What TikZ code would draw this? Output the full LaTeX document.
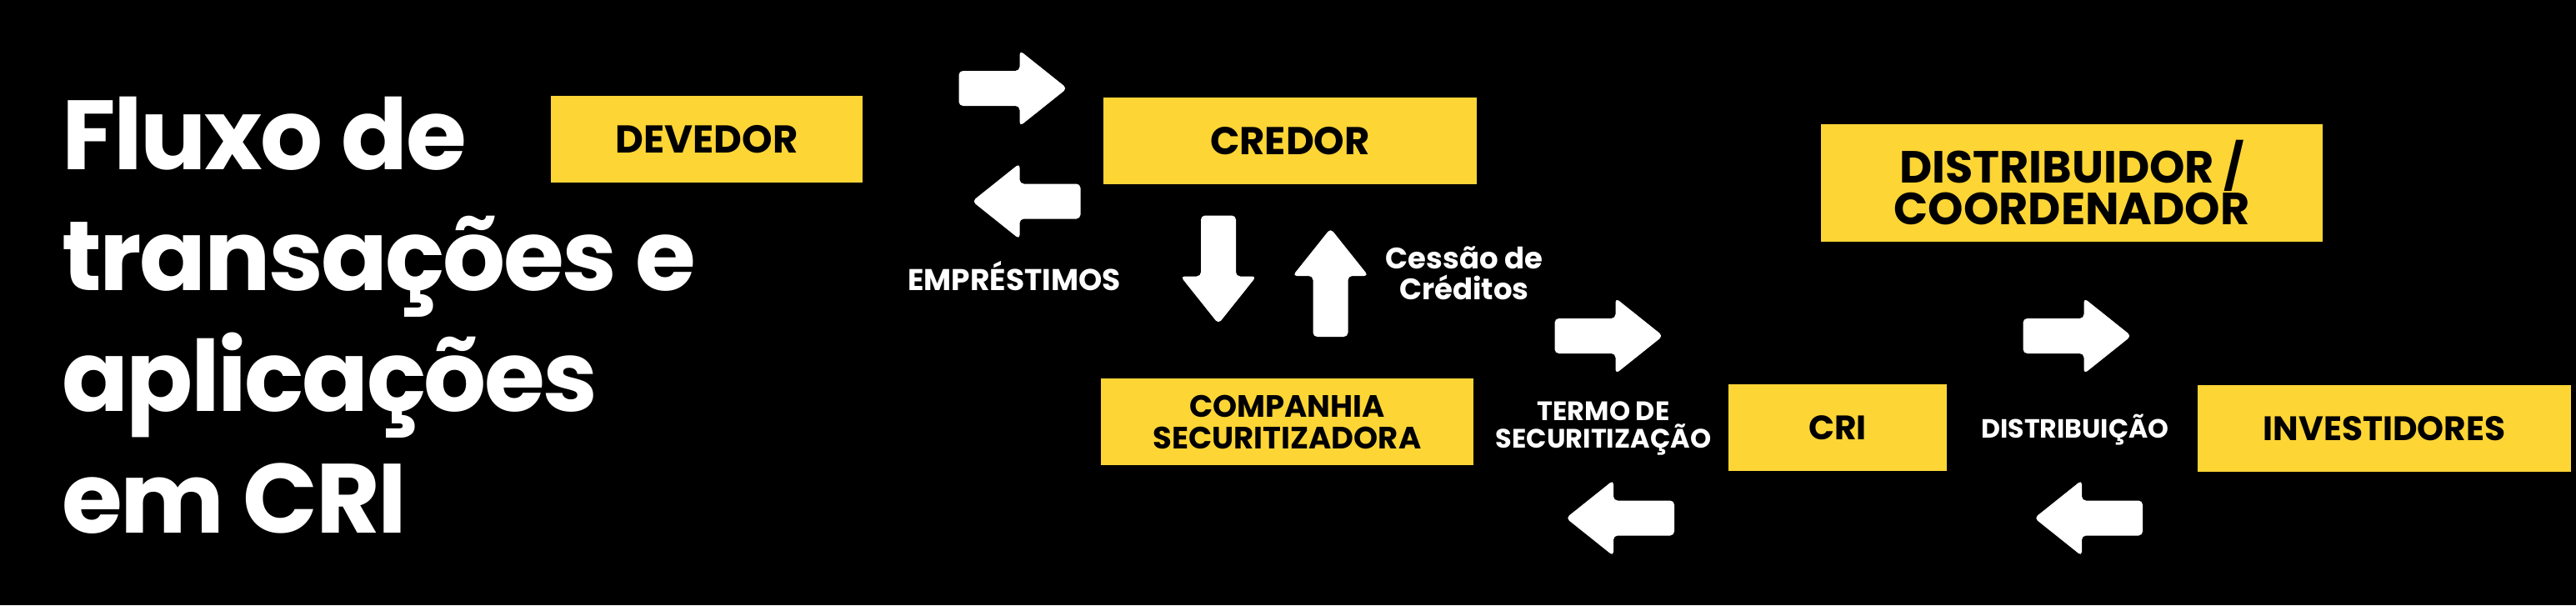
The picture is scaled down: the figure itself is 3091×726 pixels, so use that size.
\documentclass[tikz,border=0pt]{standalone}
\usepackage{fontspec}
\setmainfont{Poppins}
\definecolor{boxyellow}{HTML}{FDD535}
\begin{document}
\begin{tikzpicture}[x=1pt,y=-1pt,
  fs/.style 2 args={font=\bfseries\fontsize{#1}{#2}\selectfont},
  box/.style={fill=boxyellow, inner sep=0pt, text=black, align=center},
  lbl/.style={text=white, align=center, inner sep=0pt},
  titleline/.style={text=white, font=\bfseries\fontsize{118}{146}\selectfont\addfontfeatures{LetterSpace=-2.2}, anchor=base west, inner sep=0pt},
  blockarrow/.pic={\fill[white, rounded corners=5pt] (-65,-21) -- (8,-21) -- (8,-45.5) -- (65,0) -- (8,45.5) -- (8,21) -- (-65,21) -- cycle;}]
\fill[black] (0,0) rectangle (3091,726);
\useasboundingbox (0,0) rectangle (3091,726);

% title
\node[titleline] (t1) at (74,203) {Fluxo de};
\node[titleline] (t2) at (74,348) {transações e};
\node[titleline] (t3) at (74,493) {aplicações};
\node[titleline] (t4) at (74,639) {em CRI};

% boxes
\node[box, fs={46.5}{48}, minimum width=374pt, minimum height=104pt] (devedor) at (848,167) {DEVEDOR};
\node[box, fs={46.5}{48}, minimum width=448pt, minimum height=104pt] (credor) at (1548,169) {CREDOR};
\node[box, fs={54}{48}, minimum width=602pt, minimum height=141pt] (distrib) at (2486,219) {DISTRIBUIDOR /\\COORDENADOR};
\node[box, fs={37}{38}, minimum width=447pt, minimum height=104pt] (compsec) at (1544.5,506) {COMPANHIA\\SECURITIZADORA};
\node[box, fs={40.7}{42}, minimum width=262pt, minimum height=104pt] (cri) at (2205,513) {CRI};
\node[box, fs={40.7}{42}, minimum width=448pt, minimum height=104pt] (invest) at (2861,514) {INVESTIDORES};

% labels
\node[lbl, fs={36}{38}] (emprest) at (1217,331) {EMPRÉSTIMOS};
\node[lbl, fs={35.5}{37}] (cessao) at (1757,328) {Cessão de\\Créditos};
\node[lbl, fs={32}{33.5}] (termo) at (1924,514) {TERMO DE\\SECURITIZAÇÃO};
\node[lbl, fs={31.6}{33}] (distlbl) at (2490,516) {DISTRIBUIÇÃO};

% block arrows
\pic (a1) at (1215.5,106) {blockarrow};
\pic[rotate=180] (a2) at (1231.5,241.5) {blockarrow};
\pic[rotate=-90] (a3) at (1462,323.5) {blockarrow};
\pic[rotate=90] (a4) at (1596.5,339) {blockarrow};
\pic (a5) at (1930.5,403) {blockarrow};
\pic[rotate=180] (a6) at (1944,621.5) {blockarrow};
\pic (a7) at (2492.5,403) {blockarrow};
\pic[rotate=180] (a8) at (2506,621.5) {blockarrow};
\end{tikzpicture}
\end{document}
